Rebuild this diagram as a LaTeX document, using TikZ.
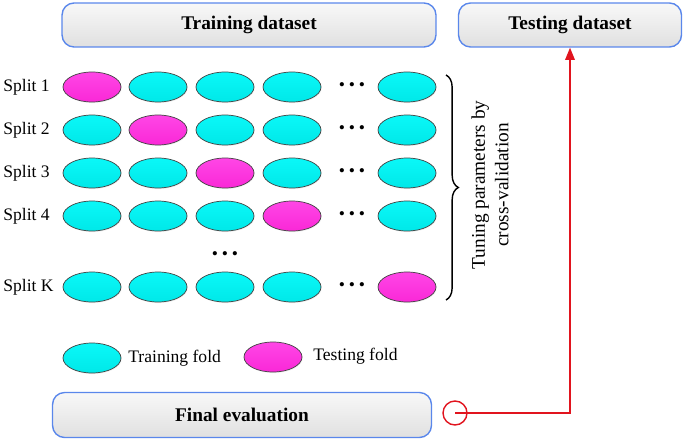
\documentclass[tikz,border=0pt]{standalone}
\usepackage{fontspec}
\setmainfont{Liberation Serif}
\usepackage{tikz}
\usetikzlibrary{arrows,arrows.meta,shapes,positioning,shadows}
\usepackage{xcolor}
\definecolor{cvblue}{RGB}{90,135,235}
\definecolor{cvgraytop}{RGB}{248,248,248}
\definecolor{cvgraybot}{RGB}{224,224,224}
\definecolor{cvcyan}{RGB}{0,232,232}
\definecolor{cvcyantop}{RGB}{10,248,248}
\definecolor{cvmagenta}{RGB}{250,40,215}
\definecolor{cvmagtop}{RGB}{255,70,230}
\definecolor{cvred}{RGB}{225,20,30}
\tikzstyle{databox} = [rectangle, draw=cvblue, thick, rounded corners=0.24cm, top color=cvgraytop, bottom color=cvgraybot, font=\bfseries\fontsize{11}{13}\selectfont, minimum height=0.88cm]
\tikzstyle{trainfold} = [ellipse, draw=black!75, top color=cvcyantop, bottom color=cvcyan, minimum width=1.16cm, minimum height=0.6cm, inner sep=0pt, drop shadow={opacity=0.12, shadow xshift=0.4pt, shadow yshift=-0.6pt}]
\tikzstyle{testfold} = [trainfold, top color=cvmagtop, bottom color=cvmagenta]
\tikzstyle{lbl} = [font=\fontsize{10}{12}\selectfont, inner sep=0pt]
\tikzstyle{arrow} = [thick,-{Triangle[length=7pt,width=5.5pt]},color=cvred]
\newcommand{\cvdots}{\textbullet\hspace{2.2pt}\textbullet\hspace{2.2pt}\textbullet}
\usetikzlibrary{calc,decorations.pathreplacing}

\begin{document}
\begin{tikzpicture}[x=0.02cm, y=-0.02cm]
    \useasboundingbox (0,0) rectangle (685,442);

    % Datasets
    \node[databox, minimum width=7.48cm] (train) at (249,25) {Training dataset};
    \node[databox, minimum width=4.46cm] (test) at (570,25) {Testing dataset};

    % Splits
    \node[lbl, anchor=west] (s1) at (3,87) {Split 1};
    \node[lbl, anchor=west] (s2) at (3,130) {Split 2};
    \node[lbl, anchor=west] (s3) at (3,173) {Split 3};
    \node[lbl, anchor=west] (s4) at (3,216) {Split 4};
    \node[lbl, anchor=west] (sk) at (3,287) {Split K};

    % Folds
    \node[testfold] (f11) at (92,87) {};
    \node[trainfold] (f12) at (158,87) {};
    \node[trainfold] (f13) at (225,87) {};
    \node[trainfold] (f14) at (292,87) {};
    \node[lbl] (d1) at (352,87) {\cvdots};
    \node[trainfold] (f1n) at (407,87) {};

    \node[trainfold] (f21) at (92,130) {};
    \node[testfold] (f22) at (158,130) {};
    \node[trainfold] (f23) at (225,130) {};
    \node[trainfold] (f24) at (292,130) {};
    \node[lbl] (d2) at (352,130) {\cvdots};
    \node[trainfold] (f2n) at (407,130) {};

    \node[trainfold] (f31) at (92,173) {};
    \node[trainfold] (f32) at (158,173) {};
    \node[testfold] (f33) at (225,173) {};
    \node[trainfold] (f34) at (292,173) {};
    \node[lbl] (d3) at (352,173) {\cvdots};
    \node[trainfold] (f3n) at (407,173) {};

    \node[trainfold] (f41) at (92,216) {};
    \node[trainfold] (f42) at (158,216) {};
    \node[trainfold] (f43) at (225,216) {};
    \node[testfold] (f44) at (292,216) {};
    \node[lbl] (d4) at (352,216) {\cvdots};
    \node[trainfold] (f4n) at (407,216) {};

    \node[lbl] (dmid) at (225,256) {\cvdots};

    \node[trainfold] (fk1) at (92,287) {};
    \node[trainfold] (fk2) at (158,287) {};
    \node[trainfold] (fk3) at (225,287) {};
    \node[trainfold] (fk4) at (292,287) {};
    \node[lbl] (dk) at (352,287) {\cvdots};
    \node[testfold] (fkn) at (407,287) {};

    % Brace
    \coordinate (btop) at (446,75);
    \coordinate (bbot) at (446,300);
    \draw[decorate, decoration={brace, amplitude=7pt}, thick] (btop) -- (bbot);
    \node[lbl, rotate=90, align=center, font=\fontsize{11}{13.5}\selectfont] (tune) at (490,185) {Tuning parameters by\\cross-validation};

    % Legend
    \node[trainfold] (ltrain) at (92,358) {};
    \node[lbl, anchor=west] (ltraint) at (128,358) {Training fold};
    \node[testfold] (ltest) at (273,357) {};
    \node[lbl, anchor=west] (ltestt) at (313,356) {Testing fold};

    % Final evaluation
    \node[databox, minimum width=7.58cm, minimum height=0.9cm] (final) at (242,415) {Final evaluation};
    \node[circle, draw=cvred, thick, minimum size=0.48cm, inner sep=0pt] (fin) at (455,413) {};

    % Arrow
    \draw[arrow] (fin.center) -| (test.south);
\end{tikzpicture}
\end{document}
